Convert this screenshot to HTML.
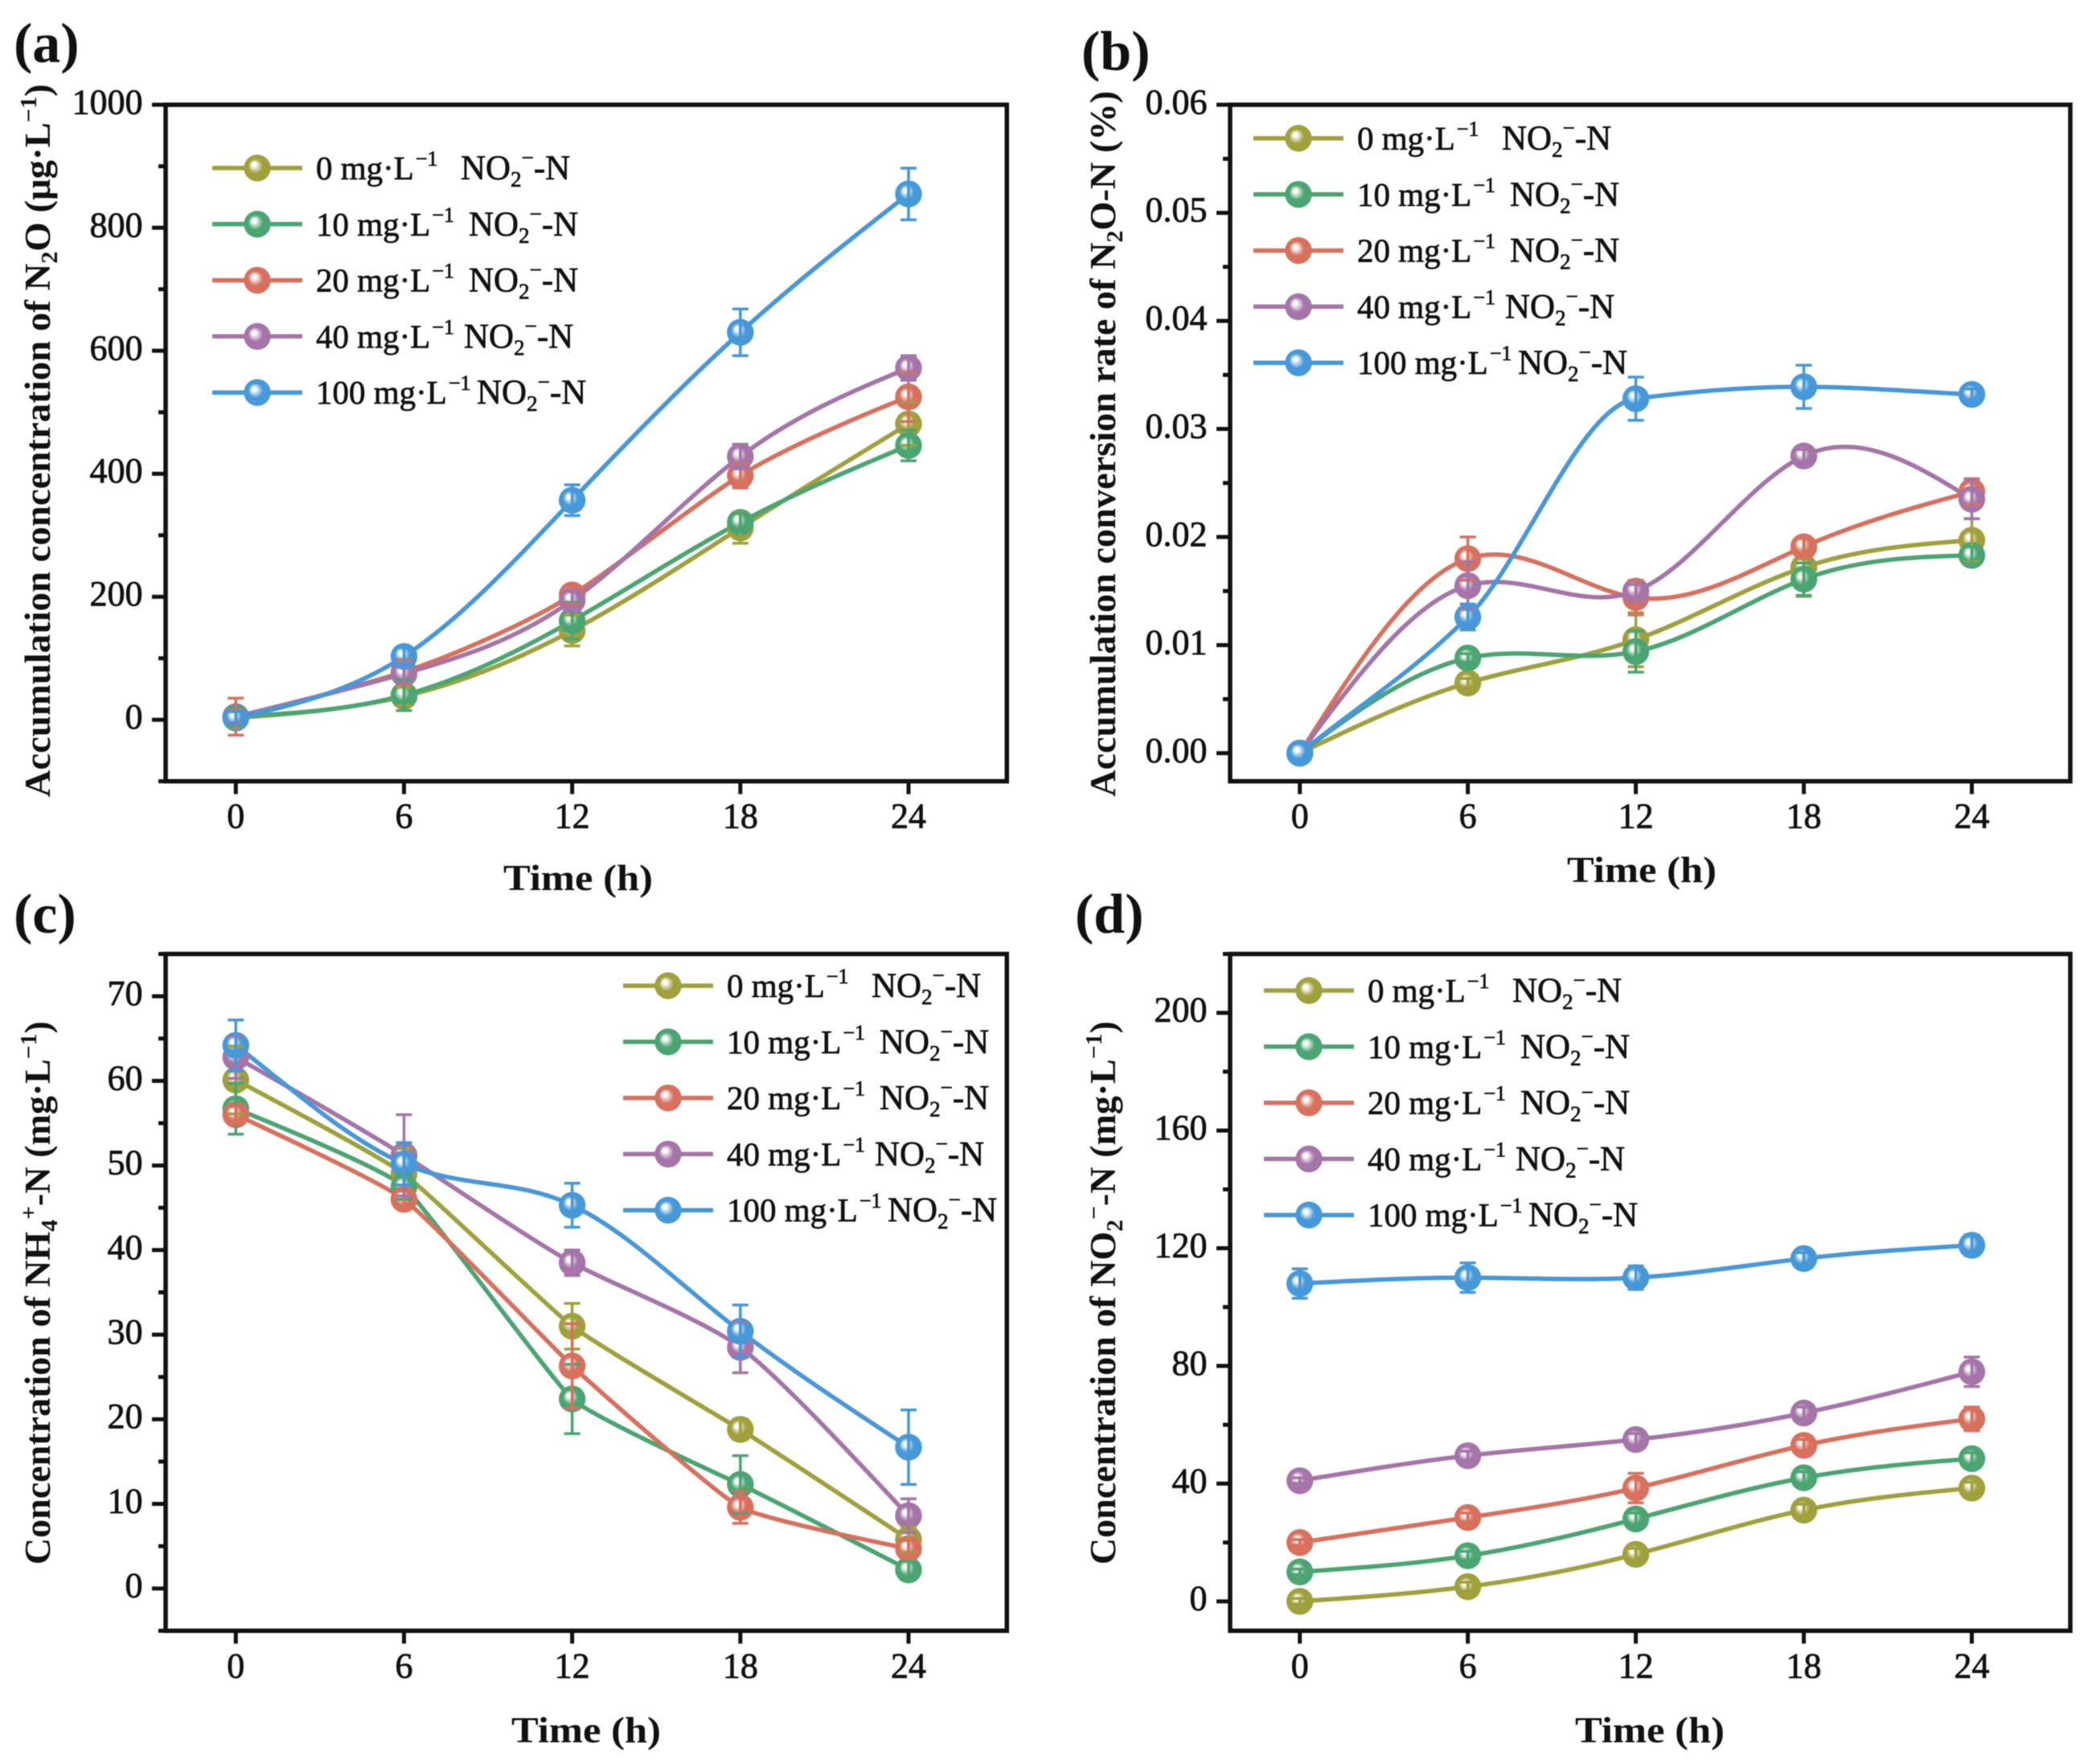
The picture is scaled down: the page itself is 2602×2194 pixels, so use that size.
<!DOCTYPE html>
<html lang="en">
<head>
<meta charset="utf-8">
<title>Nitrite effects on N2O, NH4 and NO2 over time</title>
<style>
html,body{margin:0;padding:0;background:#fff;}
svg{display:block;filter:blur(0.6px);}
text{font-family:"Liberation Serif","DejaVu Serif",serif;fill:#111;}
.tick{font-size:44px;stroke:#111;stroke-width:0.8px;}
.xt{font-size:46px;font-weight:bold;}
.yt{font-size:45px;font-weight:bold;}
.pl{font-size:70px;font-weight:bold;}
.lg{font-size:41px;stroke:#111;stroke-width:0.7px;}
.lg2{font-size:43px;stroke:#111;stroke-width:0.7px;}
</style>
</head>
<body>
<svg id="figure" xmlns="http://www.w3.org/2000/svg" width="2602" height="2194" viewBox="0 0 2602 2194">
  <rect width="2602" height="2194" fill="#fff"/>
  <defs id="defs"></defs>

  <text class="pl" x="17" y="77">(a)</text>
  <text class="pl" x="1345" y="87">(b)</text>
  <text class="pl" x="17" y="1160">(c)</text>
  <text class="pl" x="1337" y="1160">(d)</text>

  <text class="xt" x="719" y="1107" text-anchor="middle" textLength="186" lengthAdjust="spacingAndGlyphs">Time (h)</text>
  <text class="xt" x="2042" y="1097" text-anchor="middle" textLength="186" lengthAdjust="spacingAndGlyphs">Time (h)</text>
  <text class="xt" x="729" y="2167" text-anchor="middle" textLength="186" lengthAdjust="spacingAndGlyphs">Time (h)</text>
  <text class="xt" x="2052" y="2167" text-anchor="middle" textLength="186" lengthAdjust="spacingAndGlyphs">Time (h)</text>

  <text class="yt" transform="translate(62,548) rotate(-90)" text-anchor="middle" textLength="887" lengthAdjust="spacingAndGlyphs">Accumulation concentration of N<tspan dy="9" font-size="29">2</tspan><tspan dy="-9">O (μg·L</tspan><tspan dy="-17" font-size="29">−1</tspan><tspan dy="17">)</tspan></text>
  <text class="yt" transform="translate(1387,552) rotate(-90)" text-anchor="middle" textLength="878" lengthAdjust="spacingAndGlyphs">Accumulation conversion rate of N<tspan dy="9" font-size="29">2</tspan><tspan dy="-9">O-N (%)</tspan></text>
  <text class="yt" transform="translate(62,1608) rotate(-90)" text-anchor="middle" textLength="676" lengthAdjust="spacingAndGlyphs">Concentration of NH<tspan dy="9" font-size="29">4</tspan><tspan dy="-26" font-size="29">+</tspan><tspan dy="17">-N (mg·L</tspan><tspan dy="-17" font-size="29">−1</tspan><tspan dy="17">)</tspan></text>
  <text class="yt" transform="translate(1387,1608) rotate(-90)" text-anchor="middle" textLength="676" lengthAdjust="spacingAndGlyphs">Concentration of NO<tspan dy="9" font-size="29">2</tspan><tspan dy="-26" font-size="29">−</tspan><tspan dy="17">-N (mg·L</tspan><tspan dy="-17" font-size="29">−1</tspan><tspan dy="17">)</tspan></text>

  <g id="panels"></g>
</svg>

<script>
// ---------- shared categories ----------
const timeHours = [0, 6, 12, 18, 24];
const xTickLabels = ['0', '6', '12', '18', '24'];
const seriesKeys = ['0-mg', '10-mg', '20-mg', '40-mg', '100-mg'];
const legendDoses = ['0', '10', '20', '40', '100'];

// ---------- panel (a) N2O accumulation ----------
const n2o0 = [3, 38, 145, 312, 481];
const n2o10 = [5, 40, 161, 321, 446];
const n2o20 = [5, 78, 203, 397, 525];
const n2o40 = [5, 75, 194, 428, 572];
const n2o100 = [3, 103, 357, 630, 855];
const n2oErr0 = [15, 15, 25, 25, 35];
const n2oErr10 = [15, 25, 30, 15, 25];
const n2oErr20 = [30, 20, 15, 20, 40];
const n2oErr40 = [10, 15, 15, 20, 20];
const n2oErr100 = [10, 15, 25, 38, 42];
const n2oYTicks = ['0', '200', '400', '600', '800', '1000'];
const n2oYMinor = [-100, 100, 300, 500, 700, 900];

// ---------- panel (b) conversion rate ----------
const rate0 = [0, 0.0065, 0.0105, 0.0172, 0.0197];
const rate10 = [0, 0.0088, 0.0094, 0.0161, 0.0183];
const rate20 = [0, 0.018, 0.0144, 0.0191, 0.0242];
const rate40 = [0, 0.0155, 0.015, 0.0275, 0.0235];
const rate100 = [0, 0.0126, 0.0328, 0.0339, 0.0332];
const rateErr0 = [0, 0.0004, 0.0025, 0.0027, 0.002];
const rateErr10 = [0, 0.0004, 0.0019, 0.0015, 0.0008];
const rateErr20 = [0, 0.002, 0.0016, 0.0008, 0.0012];
const rateErr40 = [0, 0.0022, 0.0006, 0.0006, 0.0018];
const rateErr100 = [0, 0.0012, 0.002, 0.002, 0.0005];
const rateYTicks = ['0.00', '0.01', '0.02', '0.03', '0.04', '0.05', '0.06'];
const rateYMinor = [0.005, 0.015, 0.025, 0.035, 0.045, 0.055];

// ---------- panel (c) NH4 ----------
const nh40 = [60.1, 49, 31, 18.8, 5.8];
const nh410 = [56.7, 47.5, 22.4, 12.3, 2.2];
const nh420 = [56, 46, 26.3, 9.6, 4.7];
const nh440 = [62.8, 51.2, 38.5, 28.5, 8.6];
const nh4100 = [64.2, 50.2, 45.3, 30.4, 16.7];
const nh4Err0 = [4, 3, 2.7, 1.2, 1.5];
const nh4Err10 = [3, 1.5, 4.1, 3.4, 1];
const nh4Err20 = [1, 1, 5, 1.9, 1];
const nh4Err40 = [2.5, 4.8, 1.5, 3, 2];
const nh4Err100 = [3, 2.5, 2.6, 3.1, 4.4];
const nh4YTicks = ['0', '10', '20', '30', '40', '50', '60', '70'];
const nh4YMinor = [-5, 5, 15, 25, 35, 45, 55, 65, 75];

// ---------- panel (d) NO2 ----------
const no20 = [0, 5, 16, 31, 38.5];
const no210 = [10, 15.5, 28, 42, 48.5];
const no220 = [20, 28.5, 38.5, 53, 62];
const no240 = [41, 49.5, 55, 64, 78];
const no2100 = [108, 110, 110, 116.5, 121];
const no2Err0 = [1, 1.5, 2, 2, 2];
const no2Err10 = [1, 1.5, 2, 2, 2];
const no2Err20 = [1, 1.5, 5, 2, 4];
const no2Err40 = [1, 1.5, 2, 2, 5];
const no2Err100 = [5, 5, 4, 2, 3.5];
const no2YTicks = ['0', '40', '80', '120', '160', '200'];
const no2YMinor = [20, 60, 100, 140, 180, 220];

const seriesColors = ['#a0a03c', '#4ba572', '#d8705e', '#a575a9', '#4698d8'];
const NS = 'http://www.w3.org/2000/svg';
const root = document.getElementById('panels');
const defs = document.getElementById('defs');

seriesColors.forEach(function (c, i) {
  const g = document.createElementNS(NS, 'radialGradient');
  g.setAttribute('id', 'ball' + i);
  g.setAttribute('cx', '0.5');
  g.setAttribute('cy', '0.5');
  g.setAttribute('r', '0.5');
  g.setAttribute('fx', '0.36');
  g.setAttribute('fy', '0.35');
  [['0', '#ffffff'], ['0.14', '#ffffff'], ['0.55', c], ['1', c]].forEach(function (s) {
    const st = document.createElementNS(NS, 'stop');
    st.setAttribute('offset', s[0]);
    st.setAttribute('stop-color', s[1]);
    g.appendChild(st);
  });
  defs.appendChild(g);
});

function mk(parent, tag, attrs) {
  const e = document.createElementNS(NS, tag);
  for (const k in attrs) e.setAttribute(k, attrs[k]);
  parent.appendChild(e);
  return e;
}

// natural cubic spline tangents, blended toward central differences
function tangents(px, py, factor) {
  const n = px.length, h = [], a = [], b = [], c = [], d = [];
  for (let i = 0; i < n - 1; i++) h.push(px[i + 1] - px[i]);
  if (factor === 'monotone') {
    const s = h.map(function (w, i) { return (py[i + 1] - py[i]) / w; });
    return py.map(function (_, i) {
      if (i === 0) return s[0];
      if (i === n - 1) return s[n - 2];
      return s[i - 1] * s[i] <= 0 ? 0 : 2 * s[i - 1] * s[i] / (s[i - 1] + s[i]);
    });
  }
  for (let i = 0; i < n; i++) {
    if (i === 0) { a.push(0); b.push(2 / h[0]); c.push(1 / h[0]); d.push(3 * (py[1] - py[0]) / (h[0] * h[0])); }
    else if (i === n - 1) { a.push(1 / h[i - 1]); b.push(2 / h[i - 1]); c.push(0); d.push(3 * (py[i] - py[i - 1]) / (h[i - 1] * h[i - 1])); }
    else {
      a.push(1 / h[i - 1]); b.push(2 / h[i - 1] + 2 / h[i]); c.push(1 / h[i]);
      d.push(3 * ((py[i] - py[i - 1]) / (h[i - 1] * h[i - 1]) + (py[i + 1] - py[i]) / (h[i] * h[i])));
    }
  }
  for (let i = 1; i < n; i++) {
    const m = a[i] / b[i - 1];
    b[i] -= m * c[i - 1];
    d[i] -= m * d[i - 1];
  }
  const t = new Array(n);
  t[n - 1] = d[n - 1] / b[n - 1];
  for (let i = n - 2; i >= 0; i--) t[i] = (d[i] - c[i] * t[i + 1]) / b[i];
  return t.map(function (v, i) {
    const sec = i === 0 ? (py[1] - py[0]) / h[0] : i === n - 1 ? (py[n - 1] - py[n - 2]) / h[n - 2] : (py[i + 1] - py[i - 1]) / (px[i + 1] - px[i - 1]);
    return sec + (v - sec) * factor;
  });
}

function curvePath(px, py, factor, handle) {
  const t = tangents(px, py, factor);
  let s = 'M' + px[0].toFixed(1) + ' ' + py[0].toFixed(1);
  for (let i = 0; i < px.length - 1; i++) {
    const h = (px[i + 1] - px[i]) / 3 * handle;
    s += 'C' + (px[i] + h).toFixed(1) + ' ' + (py[i] + h * t[i]).toFixed(1) + ' ' +
      (px[i + 1] - h).toFixed(1) + ' ' + (py[i + 1] - h * t[i + 1]).toFixed(1) + ' ' +
      px[i + 1].toFixed(1) + ' ' + py[i + 1].toFixed(1);
  }
  return s;
}

function drawLegend(g, name, dx, dy) {
  const noX = [573, 583, 583, 577, 593];
  legendDoses.forEach(function (dose, i) {
    const y = 209 + 69.8 * i + dy;
    const item = mk(g, 'g', {});
    
    
    const ln = mk(item, 'line', { x1: 264 + dx, x2: 376 + dx, y1: y, y2: y, stroke: seriesColors[i], 'stroke-width': 5.5 });
    
    
    const ball = mk(item, 'circle', { cx: 320 + dx, cy: y, r: 16.7, fill: 'url(#ball' + i + ')' });
    
    
    const t1 = mk(item, 'text', { class: 'lg', x: 393 + dx, y: y + 14 });
    
    
    t1.innerHTML = dose + ' mg·L<tspan dy="-17" font-size="26" dx="2">−1</tspan>';
    const t2 = mk(item, 'text', { class: 'lg2', x: noX[i] + dx, y: y + 14 });
    
    
    t2.innerHTML = 'NO<tspan dy="9" font-size="27">2</tspan><tspan dy="-27" font-size="27">−</tspan><tspan dy="18">-N</tspan>';
  });
}

function drawPanel(p) {
  const g = mk(root, 'g', {});
  
  
  const xS = function (v) { return p.x0 + (v - timeHours[0]) / (timeHours[4] - timeHours[0]) * (p.x24 - p.x0); };
  const yS = function (v) { return p.bottom - (v - p.yMin) / (p.yMax - p.yMin) * (p.bottom - p.top); };

  // x ticks
  timeHours.forEach(function (h, i) {
    const tk = mk(g, 'line', { x1: xS(h), x2: xS(h), y1: p.bottom, y2: p.bottom + 16, stroke: '#111', 'stroke-width': 5 });
    
    
    const lb = mk(g, 'text', { class: 'tick', x: xS(h), y: p.bottom + 58, 'text-anchor': 'middle' });
    
    
    lb.textContent = xTickLabels[i];
  });
  // y ticks
  p.yTicks.forEach(function (label) {
    const v = parseFloat(label);
    const tk = mk(g, 'line', { x1: p.left - 17, x2: p.left, y1: yS(v), y2: yS(v), stroke: '#111', 'stroke-width': 5 });
    
    
    const lb = mk(g, 'text', { class: 'tick', x: p.left - 28.5, y: yS(v) + 11, 'text-anchor': 'end' });
    
    
    lb.textContent = label;
  });
  p.yMinor.forEach(function (v) {
    const tk = mk(g, 'line', { x1: p.left - 9, x2: p.left, y1: yS(v), y2: yS(v), stroke: '#111', 'stroke-width': 5 });
    
    
  });
  // frame
  const fr = mk(g, 'rect', { x: p.left, y: p.top, width: p.right - p.left, height: p.bottom - p.top, fill: 'none', stroke: '#111', 'stroke-width': 5.5 });
  
  

  // lines
  p.series.forEach(function (vals, i) {
    const path = mk(g, 'path', { d: curvePath(timeHours.map(xS), vals.map(yS), p.smooth[i], p.handle[i]), fill: 'none', stroke: seriesColors[i], 'stroke-width': 5.5 });
    
    
  });
  // markers
  p.series.forEach(function (vals, i) {
    vals.forEach(function (v, k) {
      const c = mk(g, 'circle', { cx: xS(timeHours[k]), cy: yS(v), r: 16.7, fill: 'url(#ball' + i + ')' });
      
      
    });
  });
  // error bars
  p.series.forEach(function (vals, i) {
    vals.forEach(function (v, k) {
      const e = p.errors[i][k];
      if (!e) return;
      const x = xS(timeHours[k]), hi = yS(v + e), lo = yS(v - e);
      const eb = mk(g, 'path', { d: 'M' + x + ' ' + hi + 'V' + lo + 'M' + (x - 10) + ' ' + hi + 'H' + (x + 10) + 'M' + (x - 10) + ' ' + lo + 'H' + (x + 10), fill: 'none', stroke: seriesColors[i], 'stroke-width': 3.5 });
      
      
    });
  });
  drawLegend(g, p.name, p.lx, p.ly);
}

drawPanel({ name: 'a', left: 206, right: 1252.3, top: 130.3, bottom: 971.7, x0: 293.3, x24: 1130, yMin: -100, yMax: 1000,
  smooth: [1, 1, 1, 1, 1], handle: [1, 1, 0.8, 1, 1],
  yTicks: n2oYTicks, yMinor: n2oYMinor, lx: 0, ly: 0,
  series: [n2o0, n2o10, n2o20, n2o40, n2o100], errors: [n2oErr0, n2oErr10, n2oErr20, n2oErr40, n2oErr100] });
drawPanel({ name: 'b', left: 1530, right: 2575, top: 130.3, bottom: 971.7, x0: 1616.7, x24: 2452.5, yMin: -0.0026, yMax: 0.06,
  smooth: [1, 1, 1, 1, 'monotone'], handle: [1, 1, 1, 1, 1],
  yTicks: rateYTicks, yMinor: rateYMinor, lx: 1295, ly: -37,
  series: [rate0, rate10, rate20, rate40, rate100], errors: [rateErr0, rateErr10, rateErr20, rateErr40, rateErr100] });
drawPanel({ name: 'c', left: 206, right: 1252.3, top: 1186.5, bottom: 2028.3, x0: 293.3, x24: 1130, yMin: -5, yMax: 75,
  smooth: [0.3, 0.3, 0.3, 0.45, 0.45], handle: [0.4, 0.35, 0.4, 0.7, 1],
  yTicks: nh4YTicks, yMinor: nh4YMinor, lx: 511, ly: 1017,
  series: [nh40, nh410, nh420, nh440, nh4100], errors: [nh4Err0, nh4Err10, nh4Err20, nh4Err40, nh4Err100] });
drawPanel({ name: 'd', left: 1530, right: 2575, top: 1186.5, bottom: 2028.3, x0: 1616.7, x24: 2452.5, yMin: -10, yMax: 220,
  smooth: [1, 1, 1, 1, 1], handle: [1, 1, 1, 1, 1],
  yTicks: no2YTicks, yMinor: no2YMinor, lx: 1308, ly: 1023,
  series: [no20, no210, no220, no240, no2100], errors: [no2Err0, no2Err10, no2Err20, no2Err40, no2Err100] });
</script>
</body>
</html>
